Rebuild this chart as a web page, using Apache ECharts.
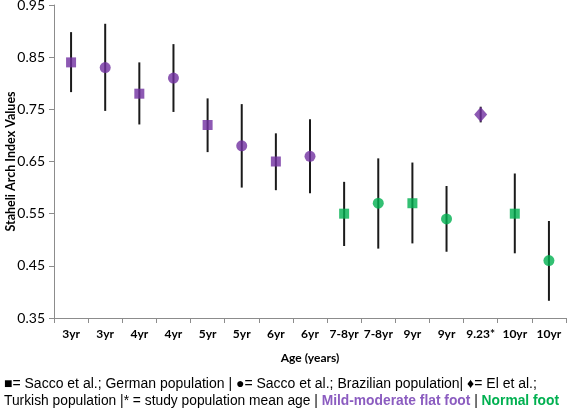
<!DOCTYPE html>
<html>
<head>
<meta charset="utf-8">
<style>html,body{margin:0;padding:0;background:#fff;}#c{width:568px;height:412px;}</style>
<script src="https://cdn.jsdelivr.net/npm/echarts@6/dist/echarts.min.js"></script>
</head>
<body>
<div id="c"></div>
<script>
var categories = ['3yr','3yr','4yr','4yr','5yr','5yr','6yr','6yr','7-8yr','7-8yr','9yr','9yr','9.23*','10yr','10yr'];
var means = [0.84, 0.83, 0.78, 0.81, 0.72, 0.68, 0.65, 0.66, 0.55, 0.57, 0.57, 0.54, 0.74, 0.55, 0.46];
var lows  = [0.783, 0.747, 0.721, 0.745, 0.668, 0.600, 0.595, 0.589, 0.488, 0.483, 0.493, 0.477, 0.725, 0.474, 0.383];
var highs = [0.898, 0.914, 0.840, 0.875, 0.771, 0.760, 0.704, 0.731, 0.611, 0.656, 0.648, 0.603, 0.755, 0.627, 0.536];
var shapes = ['rect','circle','rect','circle','rect','circle','rect','circle','rect','circle','rect','circle','diamond','rect','circle'];
var groups = ['flat','flat','flat','flat','flat','flat','flat','flat','normal','normal','normal','normal','flat','normal','normal'];
var yTicks = [0.35, 0.45, 0.55, 0.65, 0.75, 0.85, 0.95];

var colors = {flat: '#7030A0', normal: '#00B050'};
var sizes = {rect: [10, 10], circle: [11, 11], diamond: [13, 15]};

var chart = echarts.init(document.getElementById('c'));
var errData = categories.map(function (c, i) { return [i, lows[i], highs[i]]; });
var ptData = categories.map(function (c, i) {
  return {
    value: [i, means[i]],
    symbol: shapes[i],
    symbolSize: sizes[shapes[i]],
    itemStyle: {color: colors[groups[i]]}
  };
});

chart.setOption({
  animation: false,
  grid: {left: 54, right: 2, top: 5, bottom: 94, containLabel: false, outerBoundsMode: 'none'},
  xAxis: {
    type: 'category',
    data: categories,
    name: 'Age (years)',
    nameLocation: 'middle',
    nameGap: 34,
    nameMoveOverlap: false,
    nameTextStyle: {fontFamily: 'Lato', fontWeight: 'bold', fontSize: 12, color: '#000'},
    axisLine: {lineStyle: {color: '#8c8c8c', width: 1}},
    axisTick: {show: true, alignWithLabel: false, length: 5, lineStyle: {color: '#8c8c8c'}},
    axisLabel: {interval: 0, fontFamily: 'Lato', fontWeight: 'bold', fontSize: 12, color: '#000', margin: 10}
  },
  yAxis: {
    type: 'value',
    min: 0.35,
    max: 0.95,
    interval: 0.1,
    name: 'Staheli Arch Index Values',
    nameLocation: 'middle',
    nameGap: 43,
    nameMoveOverlap: false,
    nameTextStyle: {fontFamily: 'Lato', fontWeight: 'bold', fontSize: 12.5, color: '#000', verticalAlign: 'middle'},
    axisLine: {show: true, lineStyle: {color: '#8c8c8c', width: 1}},
    axisTick: {show: true, length: 5, lineStyle: {color: '#8c8c8c'}},
    splitLine: {show: false},
    axisLabel: {
      fontFamily: 'Lato', fontSize: 14, color: '#000', margin: 9,
      formatter: function (v) {
        for (var k = 0; k < yTicks.length; k++) {
          if (Math.abs(yTicks[k] - v) < 1e-6) return yTicks[k].toFixed(2);
        }
        return '';
      }
    }
  },
  series: [
    {
      type: 'custom',
      data: errData,
      renderItem: function (params, api) {
        var p1 = api.coord([api.value(0), api.value(1)]);
        var p2 = api.coord([api.value(0), api.value(2)]);
        return {
          type: 'line',
          shape: {x1: p1[0], y1: p1[1], x2: p2[0], y2: p2[1]},
          style: {stroke: '#1a1a1a', lineWidth: 2}
        };
      },
      z: 1
    },
    {
      type: 'scatter',
      data: ptData,
      z: 2
    }
  ],
  graphic: [
    {
      type: 'text',
      x: 4,
      y: 384,
      style: {
        text: '\u25A0= Sacco et al.; German population | \u25CF= Sacco et al.; Brazilian population| \u2666= El et al.;',
        fontFamily: 'Liberation Sans',
        fontSize: 14,
        verticalAlign: 'middle',
        fill: '#000'
      }
    },
    {
      type: 'text',
      x: 4,
      y: 401,
      style: {
        text: 'Turkish population |* = study population mean age | {p|Mild-moderate flat foot} | {g|Normal foot}',
        fontFamily: 'Liberation Sans',
        fontSize: 13.8,
        verticalAlign: 'middle',
        fill: '#000',
        rich: {
          p: {fontFamily: 'Liberation Sans', fontSize: 13.8, fontWeight: 'bold', fill: '#8B5CC0', color: '#8B5CC0'},
          g: {fontFamily: 'Liberation Sans', fontSize: 13.8, fontWeight: 'bold', fill: '#00B050', color: '#00B050'}
        }
      }
    }
  ]
});
</script>
</body>
</html>
